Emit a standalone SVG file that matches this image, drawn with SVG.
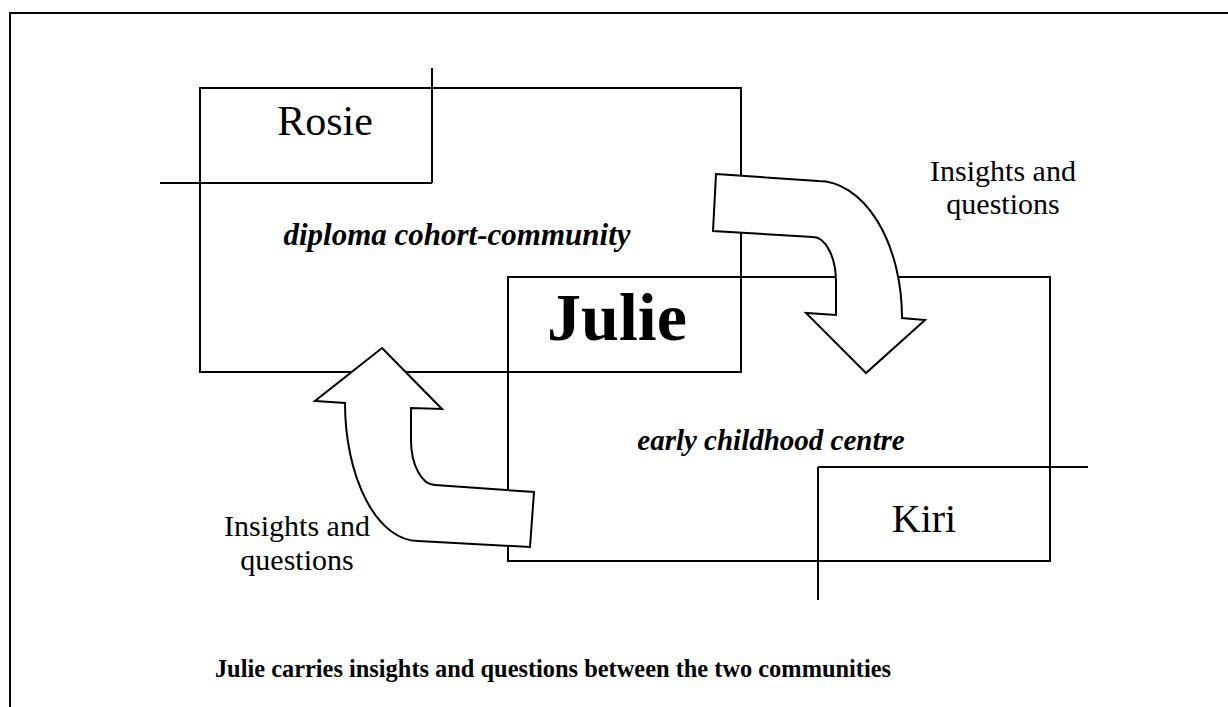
<svg xmlns="http://www.w3.org/2000/svg" width="1228" height="707" viewBox="0 0 1228 707">
<style>
.ln{stroke:#000;stroke-width:2;fill:none}
.ar{stroke:#000;stroke-width:2;fill:#fff;stroke-linejoin:miter}
.t{font-family:"Liberation Serif","Times New Roman",serif;fill:#000}
.lab{font-size:30px;text-anchor:middle}
.bi{font-size:29px;font-weight:bold;font-style:italic;text-anchor:middle}
</style>
<rect x="0" y="0" width="1228" height="707" fill="#fff"/>
<g id="frame"><path class="ln" d="M10,707 V13 H1228" stroke-width="2.5"/></g>
<g id="diploma"><rect class="ln" x="200" y="88" width="541" height="284"/>
<text class="t bi" x="457" y="245" style="font-size:31px">diploma cohort-community</text></g>
<g id="rosie"><path class="ln" d="M432,68 V183 M160,183 H432"/>
<text class="t" x="325" y="135" font-size="42" text-anchor="middle">Rosie</text></g>
<g id="centre"><rect class="ln" x="508" y="277" width="542" height="284"/>
<text class="t bi" x="771" y="450">early childhood centre</text></g>
<g id="kiri"><path class="ln" d="M818,467 H1088 M818,467 V600"/>
<text class="t" x="924" y="532" font-size="40" text-anchor="middle">Kiri</text></g>
<g id="julie"><text class="t" x="617" y="340" font-size="68" font-weight="bold" text-anchor="middle">Julie</text></g>
<g id="connectors">
<path id="arrow-down" class="ar" d="M716,174 L818,181 A84,137 0 0 1 902,318 L925,320 L866,373 L806,313 L836,315 L836,282 A23,45 0 0 0 813,237 L713,231 Z"/>
<path id="arrow-up" class="ar" d="M382,348 L442,409 L411,408 L411,440 A24,45 0 0 0 435,485 L534,492 L530,547 L418,541 A73,138 0 0 1 345,403 L315,401 Z"/>
</g>
<g id="labels">
<text class="t lab" x="1003" y="181">Insights and</text>
<text class="t lab" x="1003" y="214">questions</text>
<text class="t lab" x="297" y="536">Insights and</text>
<text class="t lab" x="297" y="570">questions</text>
<text class="t" x="553" y="677" font-size="24.4" font-weight="bold" text-anchor="middle">Julie carries insights and questions between the two communities</text>
</g>
</svg>
